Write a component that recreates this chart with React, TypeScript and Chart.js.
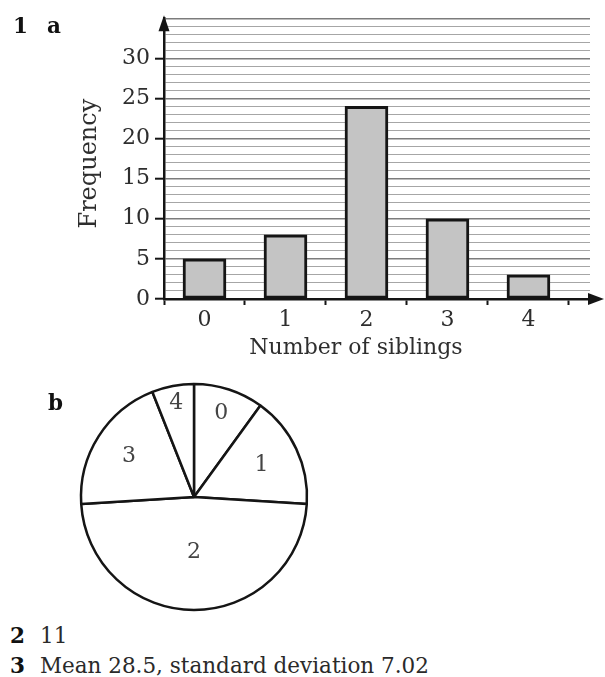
import React, { useEffect, useRef } from 'react';
import { Chart, registerables } from 'chart.js';

Chart.register(...registerables);

// ---- data ----
const siblings = [0, 1, 2, 3, 4];
const frequency = [5, 8, 24, 10, 3];
const yMax = 35;
const yTickLabels = [0, 5, 10, 15, 20, 25, 30];
const xTitle = 'Number of siblings';
const yTitle = 'Frequency';
const pieLabels = ['0', '1', '2', '3', '4'];
const answer2 = '11';
const answer3 = 'Mean 28.5, standard deviation 7.02';

const FONT = "'DejaVu Serif', 'Liberation Serif', serif";
const INK = '#151515';
const TEXT = '#2e2e2e';
const CLEAR = 'rgba(0,0,0,0)';

const axisDecor = {
  id: 'axisDecor',
  afterDraw(chart: any, _args: any, opts: any) {
    const { ctx, chartArea: a } = chart;
    ctx.save();
    ctx.fillStyle = INK;
    ctx.strokeStyle = INK;
    ctx.lineWidth = 2.5;
    // y-axis arrow
    ctx.beginPath();
    ctx.moveTo(a.left, a.top - 3);
    ctx.lineTo(a.left - 5.5, a.top + 13);
    ctx.lineTo(a.left + 5.5, a.top + 13);
    ctx.closePath();
    ctx.fill();
    // x-axis extension + arrow
    ctx.beginPath();
    ctx.moveTo(a.right - 2, a.bottom);
    ctx.lineTo(a.right + 6, a.bottom);
    ctx.stroke();
    ctx.beginPath();
    ctx.moveTo(a.right + 14, a.bottom);
    ctx.lineTo(a.right - 2, a.bottom - 6);
    ctx.lineTo(a.right - 2, a.bottom + 6);
    ctx.closePath();
    ctx.fill();
    // axis titles
    ctx.fillStyle = TEXT;
    ctx.textBaseline = 'middle';
    ctx.textAlign = 'center';
    ctx.font = `22px ${FONT}`;
    ctx.fillText(opts.xTitle, (a.left + a.right) / 2 + opts.xShift, opts.xTitleY);
    ctx.save();
    ctx.translate(opts.yTitleX, (a.top + a.bottom) / 2 + opts.yShift);
    ctx.rotate(-Math.PI / 2);
    ctx.font = `24px ${FONT}`;
    ctx.fillText(opts.yTitle, 0, 0);
    ctx.restore();
    ctx.restore();
  },
};

const pieText = {
  id: 'pieText',
  afterDatasetsDraw(chart: any, _args: any, opts: any) {
    const { ctx } = chart;
    const meta = chart.getDatasetMeta(0);
    ctx.save();
    ctx.font = `22px ${FONT}`;
    ctx.fillStyle = '#444';
    ctx.textAlign = 'center';
    ctx.textBaseline = 'middle';
    meta.data.forEach((arc: any, i: number) => {
      const p = arc.getProps(['x', 'y', 'startAngle', 'endAngle', 'outerRadius'], true);
      const mid = (p.startAngle + p.endAngle) / 2;
      const r = p.outerRadius * (opts.radii?.[i] ?? 0.65);
      ctx.fillText(String(chart.data.labels[i]), p.x + Math.cos(mid) * r, p.y + Math.sin(mid) * r);
    });
    ctx.restore();
  },
};

function BarChart() {
  const ref = useRef<HTMLCanvasElement>(null);
  useEffect(() => {
    const xTicks: number[] = [];
    siblings.forEach((s) => {
      xTicks.push(s - 0.5, s);
    });
    xTicks.push(siblings[siblings.length - 1] + 0.5);
    const chart = new Chart(ref.current as HTMLCanvasElement, {
      type: 'bar',
      data: {
        datasets: [
          {
            data: siblings.map((s, i) => ({ x: s, y: frequency[i] })),
            backgroundColor: '#c4c4c4',
            borderColor: INK,
            borderWidth: 3,
            borderSkipped: false,
            barThickness: 43,
          },
        ],
      },
      options: {
        animation: false,
        responsive: false,
        maintainAspectRatio: false,
        layout: { padding: { left: 0, top: 16, right: 15, bottom: 0 } },
        plugins: {
          legend: { display: false },
          tooltip: { enabled: false },
          axisDecor: { xTitle, yTitle, xShift: -21, xTitleY: 348, yTitleX: 90, yShift: 5 },
        },
        scales: {
          x: {
            type: 'linear',
            min: -0.5,
            max: 4.76,
            offset: false,
            afterBuildTicks: (s: any) => {
              s.ticks = xTicks.map((v) => ({ value: v }));
            },
            afterFit: (s: any) => {
              s.height = 73;
            },
            ticks: {
              autoSkip: false,
              maxRotation: 0,
              padding: 2,
              color: TEXT,
              font: { family: FONT, size: 22 },
              callback: (v: any) => (Number.isInteger(v) ? String(v) : ''),
            },
            grid: {
              offset: false,
              drawOnChartArea: false,
              drawTicks: true,
              tickLength: 6,
              tickWidth: 2,
              tickColor: (c: any) => (Number.isInteger(c.tick?.value) ? CLEAR : INK),
            },
            border: { display: true, color: INK, width: 2.5 },
          },
          y: {
            min: 0,
            max: yMax,
            afterFit: (s: any) => {
              s.width = 164;
            },
            ticks: {
              stepSize: 1,
              autoSkip: false,
              padding: 5,
              color: TEXT,
              font: { family: FONT, size: 22 },
              callback: (v: any) => (yTickLabels.includes(v) ? String(v) : ''),
            },
            grid: {
              color: (c: any) =>
                c.tick?.value === 0 ? CLEAR : c.tick?.value % 5 === 0 ? '#7c7c7c' : '#a6a6a6',
              lineWidth: (c: any) => (c.tick?.value % 5 === 0 ? 1.4 : 1),
              drawTicks: true,
              tickLength: 9,
              tickWidth: 2,
              tickColor: (c: any) => (yTickLabels.includes(c.tick?.value) ? INK : CLEAR),
            },
            border: { display: true, color: INK, width: 2.5 },
          },
        },
      } as any,
      plugins: [axisDecor],
    });
    return () => chart.destroy();
  }, []);
  return (
    <canvas
      ref={ref}
      width={605}
      height={372}
      style={{ position: 'absolute', left: 0, top: 0, width: 605, height: 372 }}
    />
  );
}

function PieChart() {
  const ref = useRef<HTMLCanvasElement>(null);
  useEffect(() => {
    const chart = new Chart(ref.current as HTMLCanvasElement, {
      type: 'pie',
      data: {
        labels: pieLabels,
        datasets: [
          {
            data: frequency,
            backgroundColor: '#ffffff',
            borderColor: INK,
            borderWidth: 2.5,
          },
        ],
      },
      options: {
        animation: false,
        responsive: false,
        maintainAspectRatio: false,
        radius: 113,
        rotation: 0,
        plugins: {
          legend: { display: false },
          tooltip: { enabled: false },
          pieText: { radii: [0.78, 0.66, 0.49, 0.68, 0.84] },
        },
      } as any,
      plugins: [pieText],
    });
    return () => chart.destroy();
  }, []);
  return (
    <canvas
      ref={ref}
      width={240}
      height={240}
      style={{ position: 'absolute', left: 74, top: 377, width: 240, height: 240 }}
    />
  );
}

function Txt({ x, base, size = 21.5, bold = false, children }: any) {
  return (
    <div
      style={{
        position: 'absolute',
        left: x,
        top: base - 0.846 * size,
        fontFamily: FONT,
        fontSize: size,
        lineHeight: 1,
        fontWeight: bold ? 'bold' : 'normal',
        color: bold ? '#111' : '#2a2a2a',
        whiteSpace: 'nowrap',
      }}
    >
      {children}
    </div>
  );
}

export default function App() {
  return (
    <div
      style={{
        position: 'absolute',
        left: 0,
        top: 0,
        width: 605,
        height: 677,
        overflow: 'hidden',
        background: '#fff',
      }}
    >
      <BarChart />
      <PieChart />
      <Txt x={13} base={33} bold>1</Txt>
      <Txt x={47} base={33} bold>a</Txt>
      <Txt x={48} base={410} bold>b</Txt>
      <Txt x={10} base={643} bold>2</Txt>
      <Txt x={40} base={643}>{answer2}</Txt>
      <Txt x={10} base={673} bold>3</Txt>
      <Txt x={40} base={673}>{answer3}</Txt>
    </div>
  );
}
